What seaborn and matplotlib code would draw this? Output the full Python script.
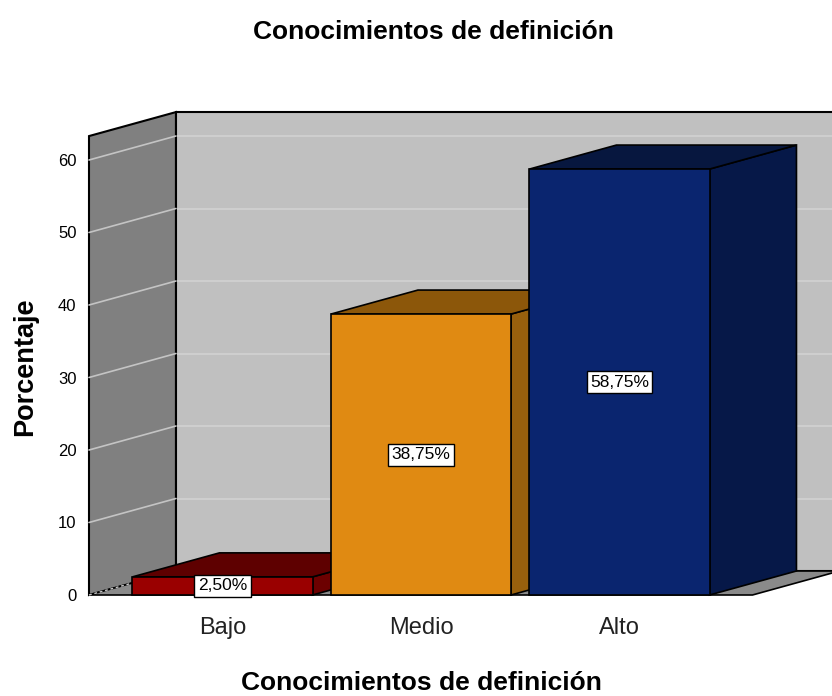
import matplotlib
matplotlib.use("Agg")
import matplotlib.pyplot as plt
from matplotlib.patches import Polygon
import seaborn as sns

# datos
categorias = ["Bajo", "Medio", "Alto"]
porcentajes = [2.50, 38.75, 58.75]
etiquetas = ["2,50%", "38,75%", "58,75%"]
y_ticks = [0, 10, 20, 30, 40, 50, 60]

# colores: cara frontal, cara superior, cara lateral
col_frente = ["#9A0000", "#E08A12", "#0A256F"]
col_arriba = ["#5E0000", "#8C570A", "#07173F"]
col_lado = ["#6C0000", "#98600D", "#061848"]

# geometria de la caja 3D (unidades de datos)
X_IZQ = -0.6725
X_DER = 2.67
Y_MAX = 63.3
DX = 0.438
DY = 3.31

sns.set_style("white")
plt.rcParams["font.family"] = ["Liberation Sans", "DejaVu Sans"]
plt.rcParams["text.color"] = "black"
plt.rcParams["xtick.color"] = "black"
plt.rcParams["ytick.color"] = "black"

fig = plt.figure(figsize=(8.32, 6.96), dpi=100)
y_lo, y_hi = -1.5, 68.0
px_y = 7.25
bot_px = 595 + (-y_lo) * px_y
top_px = 595 - y_hi * px_y
ax = fig.add_axes([89 / 832, (696 - bot_px) / 696, 743 / 832, (bot_px - top_px) / 696])

# barras frontales
sns.barplot(x=categorias, y=porcentajes, hue=categorias, palette=col_frente,
            saturation=1, width=0.907, edgecolor="black", linewidth=1.2,
            legend=False, ax=ax, zorder=3)
barras = list(ax.patches)

# paredes y suelo
ax.add_patch(Polygon([(X_IZQ + DX, DY), (X_DER + DX, DY), (X_DER + DX, Y_MAX + DY),
                      (X_IZQ + DX, Y_MAX + DY)], closed=True, fc="#C0C0C0",
                     ec="black", lw=1.5, zorder=0.4, clip_on=False))
ax.add_patch(Polygon([(X_IZQ, 0), (X_IZQ + DX, DY), (X_IZQ + DX, Y_MAX + DY),
                      (X_IZQ, Y_MAX)], closed=True, fc="#808080",
                     ec="black", lw=1.5, zorder=0.5, clip_on=False))
ax.add_patch(Polygon([(X_IZQ, 0), (X_DER, 0), (X_DER + DX, DY), (X_IZQ + DX, DY)],
                     closed=True, fc="#8A8A8A", ec="black", lw=1.2, zorder=0.6,
                     clip_on=False))

# lineas de cuadricula
for t in y_ticks[1:]:
    ax.plot([X_IZQ + DX, X_DER + DX], [t + DY, t + DY], color="#D2D2D2", lw=1.2,
            zorder=0.45, clip_on=False)
    ax.plot([X_IZQ, X_IZQ + DX], [t, t + DY], color="#C4C4C4", lw=1.2,
            zorder=0.55, clip_on=False)
ax.plot([X_IZQ, X_IZQ + DX], [0, DY], color="#C8C8C8", lw=1, ls=(0, (2, 2)),
        zorder=0.65, clip_on=False)

# caras superiores y laterales
for b, ca, cl in zip(barras, col_arriba, col_lado):
    x0 = b.get_x()
    x1 = x0 + b.get_width()
    h = b.get_height()
    ax.add_patch(Polygon([(x1, 0), (x1 + DX, DY), (x1 + DX, h + DY), (x1, h)],
                         closed=True, fc=cl, ec="black", lw=1.2, zorder=2))
    ax.add_patch(Polygon([(x0, h), (x1, h), (x1 + DX, h + DY), (x0 + DX, h + DY)],
                         closed=True, fc=ca, ec="black", lw=1.2, zorder=2.1))

# etiquetas de valor
for i, (v, txt) in enumerate(zip(porcentajes, etiquetas)):
    ax.text(i, v / 2, txt, ha="center", va="center", fontsize=12.5, color="black",
            zorder=5, bbox=dict(fc="white", ec="black", lw=1, pad=2.5))

ax.set_xlim(X_IZQ, X_IZQ + 743 / 198.5)
ax.set_ylim(y_lo, y_hi)
ax.set_yticks(y_ticks)
ax.set_yticklabels([str(t) for t in y_ticks], fontsize=12)
ax.tick_params(axis="y", length=0, pad=9)
ax.tick_params(axis="x", length=0, pad=8, labelsize=17)
for lab in ax.get_xticklabels():
    lab.set_color("#222222")
for s in ax.spines.values():
    s.set_visible(False)
ax.grid(False)
ax.set_xlabel("")
ax.set_ylabel("")
ax.patch.set_alpha(0)

fig.text(433 / 832, 1 - 32 / 696, "Conocimientos de definición", ha="center",
         va="center", fontsize=19, fontweight="bold", color="black")
fig.text(421 / 832, 1 - 683 / 696, "Conocimientos de definición", ha="center",
         va="center", fontsize=19, fontweight="bold", color="black")
fig.text(25 / 832, 1 - 367 / 696, "Porcentaje", ha="center", va="center",
         rotation=90, fontsize=19.5, fontweight="bold", color="black")

fig.savefig("out.png", dpi=100)
